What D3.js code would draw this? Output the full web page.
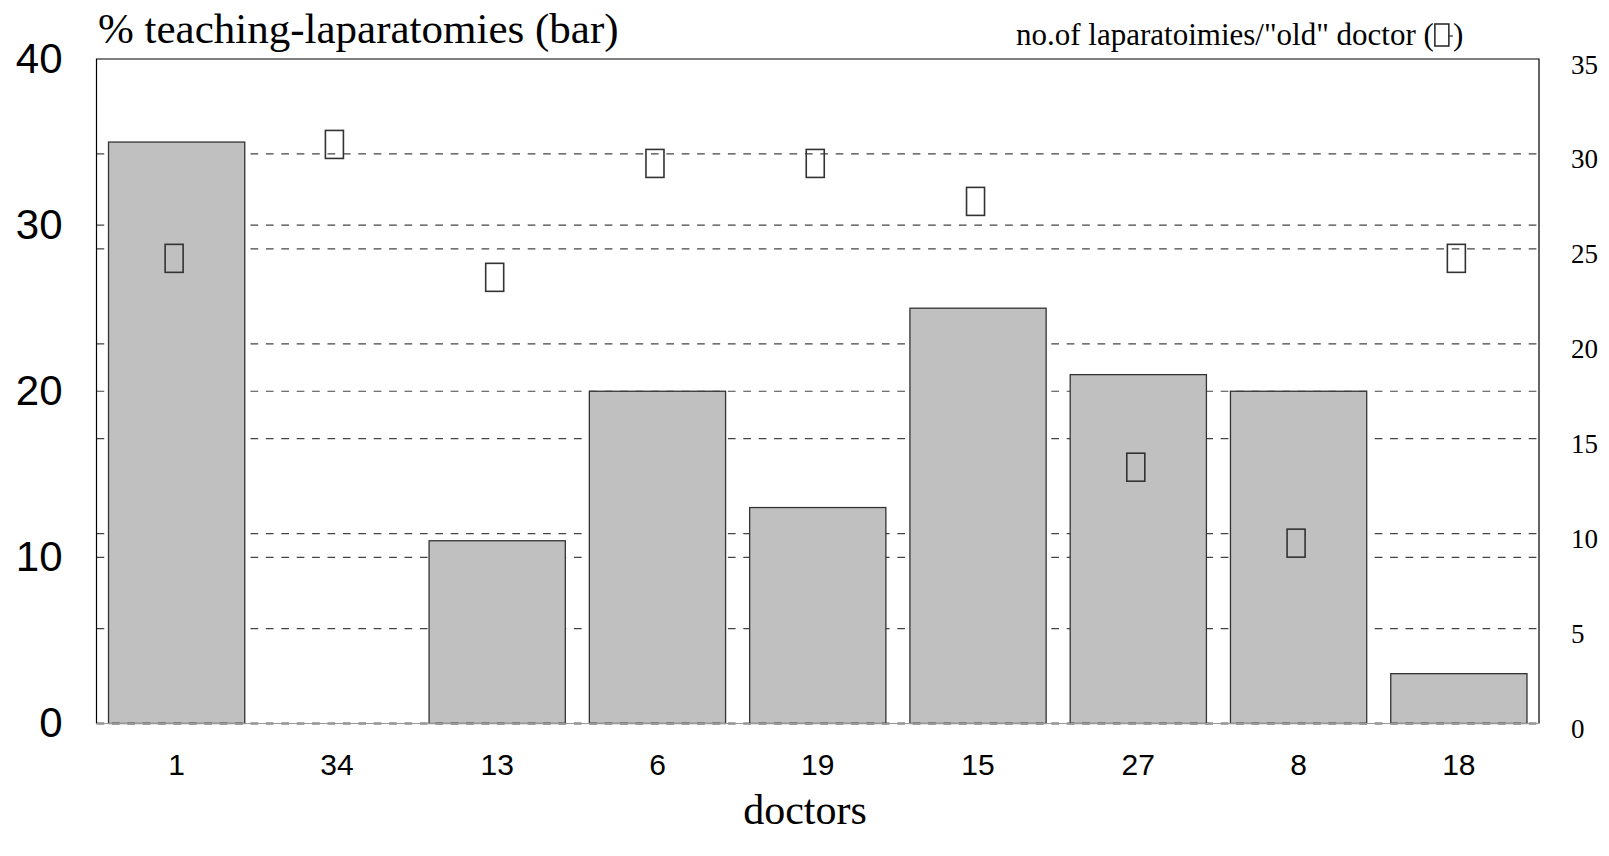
<!DOCTYPE html>
<html>
<head>
<meta charset="utf-8">
<script src="https://cdn.jsdelivr.net/npm/d3@7"></script>
<style>
  html, body { margin: 0; padding: 0; background: #fff; }
  svg { display: block; }
</style>
</head>
<body>
<svg id="chart" width="1609" height="856"></svg>
<script>
// Doctors along the x axis, in the order they are plotted
const doctors = ["1", "34", "13", "6", "19", "15", "27", "8", "18"];
// Share of teaching laparatomies per doctor (%), drawn as bars
const teachingPct = [35, 0, 11, 20, 13, 25, 21, 20, 3];
// Number of laparatomies per "old" doctor, drawn as open box symbols
const oldDoctorCount = [24.5, 30.5, 23.5, 29.5, 29.5, 27.5, 13.5, 9.5, 24.5];
// Axis ticks
const leftTicks = [0, 10, 20, 30, 40];
const rightTicks = [0, 5, 10, 15, 20, 25, 30, 35];

const svg = d3.select("#chart");
const m = { left: 96.5, right: 1539, top: 59, bottom: 723.5 };

const x = d3.scaleBand().domain(doctors).range([m.left, m.right])
  .paddingInner(0.15).paddingOuter(0.075);
const yL = d3.scaleLinear().domain([0, 40]).range([m.bottom, m.top]);
const yR = d3.scaleLinear().domain([0, 35]).range([m.bottom, m.top]);

const serif = "'Liberation Serif', 'Times New Roman', serif";
const sans = "'Liberation Sans', Arial, sans-serif";
const narrow = "'Liberation Sans Narrow', 'Liberation Sans', Arial, sans-serif";

// Dashed reference lines for both axes (drawn behind the bars)
const grid = svg.append("g");
const gridLines = [
  ...leftTicks.filter(t => t > 0 && t < 40).map(t => yL(t)),
  ...rightTicks.filter(t => t > 0 && t < 35).map(t => yR(t))
];
grid.selectAll("line").data(gridLines).join("line")
  .attr("x1", m.left).attr("x2", m.right)
  .attr("y1", d => d).attr("y2", d => d)
  .attr("stroke", "#444").attr("stroke-width", 1.2)
  .attr("stroke-dasharray", "7.7 7.7");

// Bars
svg.append("g").selectAll("rect").data(doctors).join("rect")
  .attr("x", d => x(d))
  .attr("width", x.bandwidth())
  .attr("y", (d, i) => yL(teachingPct[i]))
  .attr("height", (d, i) => yL(0) - yL(teachingPct[i]))
  .attr("fill", "#c0c0c0")
  .attr("stroke", "#333").attr("stroke-width", 1.3);

// Frame
const frame = svg.append("g").attr("fill", "none").attr("stroke", "#000").attr("stroke-width", 1.2);
frame.append("path")
  .attr("d", `M${m.left},${m.bottom}V${m.top}H${m.right}V${m.bottom}`);
frame.append("line")
  .attr("x1", m.left).attr("x2", m.right).attr("y1", m.bottom).attr("y2", m.bottom)
  .attr("stroke", "#555").attr("stroke-dasharray", "7.7 7.7").attr("stroke-width", 2);
frame.append("line")
  .attr("x1", m.left).attr("x2", m.right).attr("y1", m.bottom).attr("y2", m.bottom)
  .attr("stroke", "#999").attr("stroke-width", 1);

// Open box symbols for the right-axis series
const symW = 18, symH = 28;
svg.append("g").selectAll("rect").data(doctors).join("rect")
  .attr("x", d => x(d) + x.bandwidth() / 2 - symW / 2 - 2.5)
  .attr("y", (d, i) => yR(oldDoctorCount[i]) - symH / 2)
  .attr("width", symW).attr("height", symH)
  .attr("fill", "none").attr("stroke", "#333").attr("stroke-width", 1.6);

// Left axis labels
const leftAxis = svg.append("g").attr("transform", `translate(${m.left},0)`)
  .call(d3.axisLeft(yL).tickValues(leftTicks).tickSize(0).tickPadding(34));
leftAxis.select(".domain").remove();
leftAxis.selectAll("text").attr("font-family", sans).attr("font-size", 42).attr("fill", "#000");

// Right axis labels
const rightAxis = svg.append("g").attr("transform", `translate(${m.right},0)`)
  .call(d3.axisRight(yR).tickValues(rightTicks).tickSize(0).tickPadding(32));
rightAxis.select(".domain").remove();
rightAxis.selectAll("text").attr("font-family", serif).attr("font-size", 27).attr("fill", "#000")
  .attr("dy", "0.52em");

// Bottom axis labels
const bottomAxis = svg.append("g").attr("transform", `translate(0,${m.bottom})`)
  .call(d3.axisBottom(x).tickSize(0).tickPadding(30));
bottomAxis.select(".domain").remove();
bottomAxis.selectAll("text").attr("font-family", narrow).attr("font-size", 30).attr("fill", "#000");

// Titles
svg.append("text").attr("x", 98).attr("y", 43)
  .attr("font-family", serif).attr("font-size", 43).text("% teaching-laparatomies (bar)");

svg.append("text").attr("x", 805).attr("y", 824).attr("text-anchor", "middle")
  .attr("font-family", serif).attr("font-size", 42).text("doctors");

// Legend for the box symbols
const legX = 1016;
const leg = svg.append("text").attr("x", legX).attr("y", 45)
  .attr("font-family", serif).attr("font-size", 31)
  .text('no.of laparatoimies/"old" doctor (');
const legEnd = legX + leg.node().getComputedTextLength();
svg.append("rect").attr("x", legEnd + 1).attr("y", 24).attr("width", 14).attr("height", 22)
  .attr("fill", "none").attr("stroke", "#222").attr("stroke-width", 1.5);
svg.append("line").attr("x1", legEnd + 15).attr("x2", legEnd + 19).attr("y1", 36).attr("y2", 36)
  .attr("stroke", "#222").attr("stroke-width", 1.2);
svg.append("text").attr("x", legEnd + 19).attr("y", 45)
  .attr("font-family", serif).attr("font-size", 31).text(")");
</script>
</body>
</html>
